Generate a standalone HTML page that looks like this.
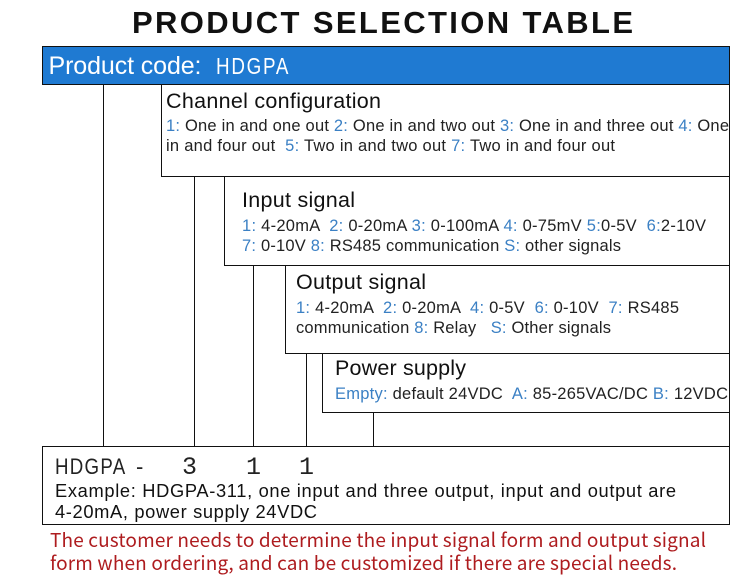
<!DOCTYPE html>
<html><head><meta charset="utf-8"><style>
html,body{margin:0;padding:0;background:#fff}
svg{display:block}
text{font-family:"Liberation Sans",sans-serif;white-space:pre;fill:#1a1a1a}
.b{fill:#3b80c4}
.h{font-size:21.5px;fill:#111}
.s{font-size:16.5px;fill:#222}
.r{font-family:"Noto Sans CJK SC","Liberation Sans",sans-serif;font-size:19px;fill:#ae1c1f}
.m{font-family:"Liberation Mono",monospace;font-size:25px;fill:#222}
</style></head><body>
<svg width="750" height="577" viewBox="0 0 750 577" xmlns="http://www.w3.org/2000/svg">
<g fill="none" stroke="#111" stroke-width="1" shape-rendering="crispEdges">
<rect x="42.5" y="46.5" width="687" height="38" fill="#1f7ad2"/>
<path d="M729.5 84V446"/>
<path d="M161.5 84V176.5H730"/>
<path d="M224.5 176V265.5H730"/>
<path d="M285.5 265V353.5H730"/>
<path d="M322.5 353V412.5H730"/>
<path d="M103.5 84V446M194.5 176V446M253.5 265V446M306.5 353V446M373.5 412V446"/>
<rect x="42.5" y="446.5" width="687" height="78" fill="#fff"/>
</g>
<text x="132" y="33" font-size="31" font-weight="bold" textLength="501" style="fill:#111">PRODUCT SELECTION TABLE</text>
<text x="48.500" y="74" font-size="25" textLength="153" style="fill:#fff">Product code:</text>
<text transform="translate(216,74) scale(.8,1)" font-size="23.5" letter-spacing="2.2" style="fill:#fff">HDGPA</text>

<text class="h" x="166" y="108" textLength="215">Channel configuration</text>
<text class="s" x="166" y="131" textLength="563"><tspan class="b">1:</tspan> One in and one out <tspan class="b">2:</tspan> One in and two out <tspan class="b">3:</tspan> One in and three out <tspan class="b">4:</tspan> One</text>
<text class="s" x="166" y="151" textLength="449">in and four out  <tspan class="b">5:</tspan> Two in and two out <tspan class="b">7:</tspan> Two in and four out</text>

<text class="h" x="242" y="207" textLength="113">Input signal</text>
<text class="s" x="242" y="231" textLength="464"><tspan class="b">1:</tspan> 4-20mA  <tspan class="b">2:</tspan> 0-20mA <tspan class="b">3:</tspan> 0-100mA <tspan class="b">4:</tspan> 0-75mV <tspan class="b">5:</tspan>0-5V  <tspan class="b">6:</tspan>2-10V</text>
<text class="s" x="242" y="251" textLength="379"><tspan class="b">7:</tspan> 0-10V <tspan class="b">8:</tspan> RS485 communication <tspan class="b">S:</tspan> other signals</text>

<text class="h" x="296" y="289" textLength="130">Output signal</text>
<text class="s" x="296" y="313" textLength="383"><tspan class="b">1:</tspan> 4-20mA  <tspan class="b">2:</tspan> 0-20mA  <tspan class="b">4:</tspan> 0-5V  <tspan class="b">6:</tspan> 0-10V  <tspan class="b">7:</tspan> RS485</text>
<text class="s" x="296" y="333" textLength="315">communication <tspan class="b">8:</tspan> Relay   <tspan class="b">S:</tspan> Other signals</text>

<text class="h" x="335" y="375" textLength="131">Power supply</text>
<text class="s" x="335" y="399" textLength="393"><tspan class="b">Empty:</tspan> default 24VDC  <tspan class="b">A:</tspan> 85-265VAC/DC <tspan class="b">B:</tspan> 12VDC</text>

<text transform="translate(55,474) scale(.85,1)" font-size="22" letter-spacing="1.5" style="fill:#222">HDGPA</text>
<text x="136" y="474" font-size="22" style="fill:#222">-</text>
<text class="m" x="182" y="474">3</text>
<text class="m" x="246" y="474">1</text>
<text class="m" x="299" y="474">1</text>
<text x="55" y="497" font-size="18.300" textLength="621" style="fill:#111">Example: HDGPA-311, one input and three output, input and output are</text>
<text x="55" y="518" font-size="18.300" textLength="262" style="fill:#111">4-20mA, power supply 24VDC</text>

<text class="r" x="50" y="547" textLength="656">The customer needs to determine the input signal form and output signal</text>
<text class="r" x="50" y="570" textLength="627">form when ordering, and can be customized if there are special needs.</text>
</svg>
</body></html>
